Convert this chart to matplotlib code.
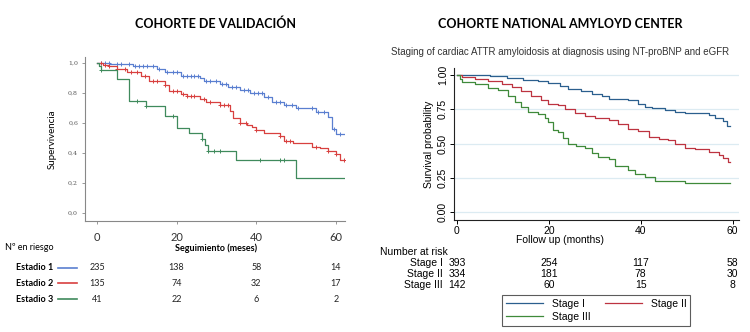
import numpy as np
import matplotlib
matplotlib.use("Agg")
import matplotlib.pyplot as plt
from matplotlib.lines import Line2D
import matplotlib.transforms as mtransforms

# ---------------- Data: left panel (Cohorte de validación) ----------------
left_title = "COHORTE DE VALIDACIÓN"
left_groups = ["Estadio 1", "Estadio 2", "Estadio 3"]
left_t1 = [0, 3.3, 9, 15, 17, 21, 26, 27, 31, 33, 36, 38.5, 42, 44, 47, 50, 55, 58, 59, 60, 62]
left_s1 = [1.0, 0.99, 0.98, 0.96, 0.94, 0.91, 0.90, 0.875, 0.86, 0.835, 0.82, 0.80, 0.77, 0.74, 0.72, 0.70, 0.67, 0.635, 0.56, 0.525, 0.525]
left_t2 = [0, 1.6, 3, 5, 7.5, 11, 13, 17, 18, 21, 22.5, 26, 27.5, 31, 33.4, 34.2, 36, 37.6, 39, 40, 42, 46, 47, 49.3, 54, 56, 58, 60, 61, 62]
left_s2 = [1.0, 0.985, 0.975, 0.96, 0.94, 0.91, 0.88, 0.85, 0.81, 0.79, 0.775, 0.755, 0.74, 0.72, 0.68, 0.63, 0.60, 0.585, 0.57, 0.55, 0.53, 0.51, 0.48, 0.465, 0.44, 0.43, 0.41, 0.395, 0.35, 0.35]
left_t3 = [0, 0.5, 1.0, 5.1, 8, 12.3, 17.2, 20, 23, 26.3, 27.1, 28, 35, 50, 62]
left_s3 = [1.0, 0.976, 0.951, 0.894, 0.745, 0.71, 0.645, 0.565, 0.53, 0.49, 0.45, 0.415, 0.355, 0.235, 0.235]
left_c1 = [1, 2, 3, 5, 6, 8, 9.5, 10.5, 11.5, 12.5, 14, 15.5, 17.5, 19, 20, 21.5, 22.5, 23.5, 24.5, 25.5, 27.5, 28.5, 30, 31.5, 32.5, 34, 35, 37, 38, 39.5, 40.5, 41.5, 43, 45, 46, 47.5, 49, 50.5, 54, 55.5, 57, 59.5, 61]
left_c2 = [1, 2, 3, 5, 7, 8.5, 10, 12, 14, 15, 17, 19, 20, 21.5, 22.5, 23.5, 24.5, 27, 28.5, 31, 32, 33, 36, 37.5, 40, 46, 47.5, 48.5, 55, 58, 60, 62]
left_c3 = [1, 10, 12.3, 19, 26.5, 28, 29.5, 31, 41, 46, 47]
left_risk_times = [0, 20, 40, 60]
left_risk = [[235, 138, 58, 14], [135, 74, 32, 17], [41, 22, 6, 2]]
left_yticks = [0.0, 0.2, 0.4, 0.6, 0.8, 1.0]
left_xticks = [0, 20, 40, 60]

# ---------------- Data: right panel (National Amyloid Center) ----------------
right_title = "COHORTE NATIONAL AMYLOYD CENTER"
right_subtitle = "Staging of cardiac ATTR amyloidosis at diagnosis using NT-proBNP and eGFR"
right_groups = ["Stage I", "Stage II", "Stage III"]
right_t1 = [0, 7.1, 10.8, 14.4, 17.7, 19.9, 22.4, 24.2, 27, 29.3, 31.5, 33, 37.3, 39.5, 41, 42.4, 45.3, 47.5, 49.7, 54.8, 56.2, 58, 58.8, 59.5]
right_s1 = [1.0, 0.995, 0.98, 0.965, 0.955, 0.94, 0.92, 0.895, 0.88, 0.86, 0.845, 0.825, 0.82, 0.79, 0.77, 0.76, 0.745, 0.73, 0.72, 0.71, 0.69, 0.665, 0.625, 0.625]
right_t2 = [0, 1, 3.9, 6.8, 9.7, 11.9, 14, 16.2, 18.4, 19.9, 22, 23.5, 25.7, 27.9, 30, 33, 35.1, 37.3, 39.5, 41.7, 43.9, 46, 47.5, 49.7, 51.9, 54.8, 57, 58, 59.1, 59.5]
right_s2 = [1.0, 0.985, 0.97, 0.955, 0.935, 0.91, 0.88, 0.85, 0.82, 0.79, 0.78, 0.75, 0.725, 0.705, 0.685, 0.67, 0.64, 0.61, 0.59, 0.55, 0.535, 0.525, 0.495, 0.47, 0.46, 0.44, 0.42, 0.395, 0.37, 0.37]
right_t3 = [0, 0.6, 1.2, 3.9, 6.8, 8.9, 11.1, 12.6, 14, 15.5, 17.7, 19.1, 19.9, 20.9, 22, 23.1, 24.2, 26, 27.9, 29.3, 30.8, 33, 34.4, 37.3, 38.8, 41, 43.1, 49.7, 59.5]
right_s3 = [1.0, 0.97, 0.95, 0.935, 0.905, 0.89, 0.85, 0.80, 0.77, 0.73, 0.715, 0.69, 0.655, 0.60, 0.585, 0.54, 0.50, 0.485, 0.465, 0.43, 0.40, 0.385, 0.34, 0.31, 0.28, 0.255, 0.225, 0.215, 0.215]
right_risk_times = [0, 20, 40, 60]
right_risk = [[393, 254, 117, 58], [334, 181, 78, 30], [142, 60, 15, 8]]
right_yticks = [0.0, 0.25, 0.50, 0.75, 1.00]
right_xticks = [0, 20, 40, 60]

left_colors = ["#5a7fd0", "#d8403f", "#3f8a5c"]
right_colors = ["#2b5f8e", "#bd3340", "#3f8a3a"]

fig = plt.figure(figsize=(7.5, 3.32), dpi=100)
W, H = 750, 332

def fx(px):
    return px / W

def fy(py):
    return 1 - py / H

# ---------------- Left panel ----------------
axL = fig.add_axes([fx(85), fy(221), fx(260), 164 / H])
axL.set_xlim(-3.0, 62.3)
axL.set_ylim(-0.053, 1.037)
for t, s, c, col in zip([left_t1, left_t2, left_t3], [left_s1, left_s2, left_s3],
                        [left_c1, left_c2, left_c3], left_colors):
    t = np.array(t); s = np.array(s)
    axL.step(t, s, where="post", color=col, lw=0.9)
    c = np.array(c)
    idx = np.searchsorted(t, c, side="right") - 1
    axL.plot(c, s[idx], ls="none", marker="+", ms=3.5, mew=0.7, color=col)
for sp in ["top", "right"]:
    axL.spines[sp].set_visible(False)
for sp in ["left", "bottom"]:
    axL.spines[sp].set_color("#888888")
    axL.spines[sp].set_linewidth(0.8)
axL.set_yticks(left_yticks)
axL.set_yticklabels([f"{v:.1f}".replace(".", ",") for v in left_yticks],
                    fontsize=4.5, color="#555555", family="DejaVu Serif")
axL.set_xticks(left_xticks)
axL.set_xticklabels([str(v) for v in left_xticks], fontsize=8, color="#333333", family="Lato")
axL.tick_params(axis="both", length=2, width=0.6, color="#888888", pad=3)
axL.tick_params(axis="x", pad=6)
axL.set_ylabel("Supervivencia", fontsize=7, family="Lato", labelpad=8)

fig.text(fx(216), fy(24), left_title, ha="center", va="center", fontsize=9,
         fontweight="bold", family="Lato")
fig.text(fx(5), fy(248), "Nº en riesgo", ha="left", va="center", fontsize=6.5, family="Lato")
fig.text(fx(216), fy(248), "Seguimiento (meses)", ha="center", va="center", fontsize=6.5,
         fontweight="bold", family="Lato")
transL = mtransforms.blended_transform_factory(axL.transData, fig.transFigure)
row_y_left = [268, 283, 299]
for g, col, row, ry in zip(left_groups, left_colors, left_risk, row_y_left):
    fig.text(fx(16), fy(ry), g, ha="left", va="center", fontsize=6.5, fontweight="bold", family="Lato")
    fig.add_artist(Line2D([fx(58), fx(77)], [fy(ry), fy(ry)], color=col, lw=1.2))
    for tt, n in zip(left_risk_times, row):
        fig.text(tt, fy(ry), str(n), transform=transL, ha="center", va="center",
                 fontsize=6.5, family="Lato", color="#222222")

# ---------------- Right panel ----------------
axR = fig.add_axes([fx(454), fy(220), fx(285), 152 / H])
axR.set_xlim(-0.65, 61.4)
axR.set_ylim(-0.056, 1.051)
for yv in right_yticks:
    axR.axhline(yv, color="#dcebf2", lw=0.9, zorder=0)
for t, s, col in zip([right_t1, right_t2, right_t3], [right_s1, right_s2, right_s3], right_colors):
    axR.step(t, s, where="post", color=col, lw=0.9)
for sp in ["top", "right"]:
    axR.spines[sp].set_visible(False)
for sp in ["left", "bottom"]:
    axR.spines[sp].set_color("#222222")
    axR.spines[sp].set_linewidth(0.8)
axR.set_yticks(right_yticks)
axR.set_yticklabels([f"{v:.2f}" for v in right_yticks], fontsize=7.5, rotation=90,
                    va="center", family="Liberation Sans")
axR.set_xticks(right_xticks)
axR.set_xticklabels([str(v) for v in right_xticks], fontsize=7.5, family="Liberation Sans")
axR.tick_params(axis="both", length=3, width=0.7, pad=1.5)
axR.set_ylabel("Survival probability", fontsize=7.5, family="Liberation Sans", labelpad=3)

fig.text(fx(560), fy(24), right_title, ha="center", va="center", fontsize=9,
         fontweight="bold", family="Lato")
fig.text(fx(560), fy(52), right_subtitle, ha="center", va="center", fontsize=7,
         family="Liberation Sans", color="#333333")
fig.text(fx(560), fy(240), "Follow up (months)", ha="center", va="center", fontsize=7.5,
         family="Liberation Sans")
fig.text(fx(380), fy(252), "Number at risk", ha="left", va="center", fontsize=7.5,
         family="Liberation Sans")
transR = mtransforms.blended_transform_factory(axR.transData, fig.transFigure)
row_y_right = [263, 274, 285]
for g, row, ry in zip(right_groups, right_risk, row_y_right):
    fig.text(fx(443), fy(ry), g, ha="right", va="center", fontsize=7.5, family="Liberation Sans")
    for tt, n in zip(right_risk_times, row):
        fig.text(tt, fy(ry), str(n), transform=transR, ha="center", va="center",
                 fontsize=7.5, family="Liberation Sans")

handles = [Line2D([], [], color=c, lw=0.9) for c in right_colors]
order = [0, 2, 1]
leg = fig.legend([handles[i] for i in order], [right_groups[i] for i in order],
                 loc="center", ncol=2,
                 bbox_to_anchor=(fx(596), fy(310.5)), frameon=True, fancybox=False,
                 prop={"family": "Liberation Sans", "size": 7.5},
                 handlelength=3.6, columnspacing=1.4, handletextpad=0.8,
                 borderpad=0.35, labelspacing=0.3)
leg.get_frame().set_edgecolor("#333333")
leg.get_frame().set_linewidth(0.8)

fig.savefig("out.png", dpi=100)
